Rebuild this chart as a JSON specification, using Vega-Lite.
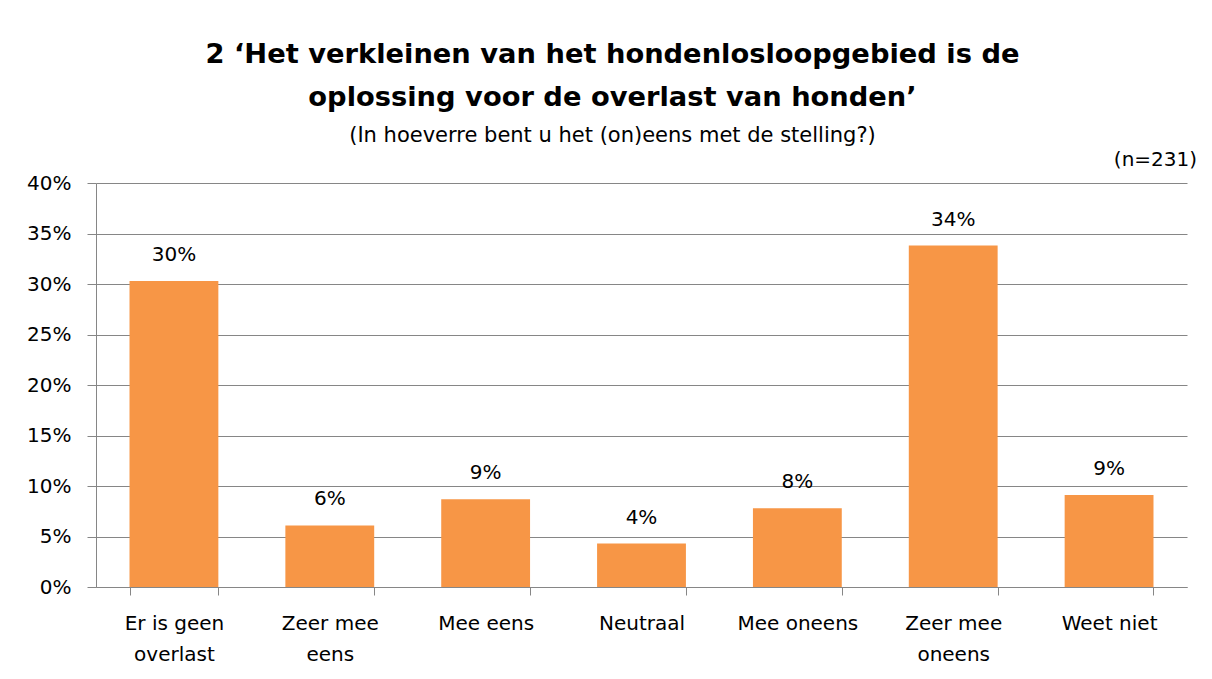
{
  "$schema": "https://vega.github.io/schema/vega-lite/v6.json",
  "autosize": {"type": "none"},
  "width": 1091,
  "height": 404,
  "padding": {"left": 96, "top": 183, "right": 25, "bottom": 92},
  "background": "white",
  "title": {
    "text": ["2 ‘Het verkleinen van het hondenlosloopgebied is de", "oplossing voor de overlast van honden’"],
    "subtitle": "(In hoeverre bent u het (on)eens met de stelling?)",
    "anchor": "middle",
    "dx": -29,
    "offset": 4,
    "font": "DejaVu Sans",
    "fontSize": 27.3,
    "fontWeight": "bold",
    "lineHeight": 43,
    "color": "#000000",
    "subtitleFont": "DejaVu Sans",
    "subtitleFontSize": 21,
    "subtitleColor": "#000000",
    "subtitlePadding": 14
  },
  "data": {
    "values": [
      {"antwoord": "Er is geen overlast", "aandeel": 0.303},
      {"antwoord": "Zeer mee eens", "aandeel": 0.061},
      {"antwoord": "Mee eens", "aandeel": 0.087},
      {"antwoord": "Neutraal", "aandeel": 0.043},
      {"antwoord": "Mee oneens", "aandeel": 0.078},
      {"antwoord": "Zeer mee oneens", "aandeel": 0.338},
      {"antwoord": "Weet niet", "aandeel": 0.091}
    ]
  },
  "encoding": {
    "x": {
      "field": "antwoord",
      "type": "nominal",
      "sort": null,
      "scale": {"paddingInner": 0.43, "paddingOuter": 0.215},
      "axis": {
        "title": null,
        "labelAngle": 0,
        "labelFont": "DejaVu Sans",
        "labelFontSize": 20,
        "labelColor": "#000000",
        "labelLineHeight": 31,
        "labelPadding": 18,
        "labelBaseline": "top",
        "tickBand": "extent",
        "tickSize": 8,
        "tickColor": "#868686",
        "domainColor": "#868686",
        "labelExpr": "datum.value == 'Er is geen overlast' ? ['Er is geen', 'overlast'] : datum.value == 'Zeer mee eens' ? ['Zeer mee', 'eens'] : datum.value == 'Zeer mee oneens' ? ['Zeer mee', 'oneens'] : datum.value"
      }
    }
  },
  "layer": [
    {
      "mark": {"type": "bar", "color": "#F79646"},
      "encoding": {
        "y": {
          "field": "aandeel",
          "type": "quantitative",
          "scale": {"domain": [0, 0.4], "nice": false},
          "axis": {
            "title": null,
            "values": [0, 0.05, 0.1, 0.15, 0.2, 0.25, 0.3, 0.35, 0.4],
            "format": ".0%",
            "labelFont": "DejaVu Sans",
            "labelFontSize": 20,
            "labelColor": "#000000",
            "labelPadding": 16,
            "tickSize": 9,
            "tickColor": "#868686",
            "domainColor": "#868686",
            "gridColor": "#868686",
            "gridWidth": 1
          }
        }
      }
    },
    {
      "mark": {"type": "text", "font": "DejaVu Sans", "fontSize": 20, "color": "#000000", "baseline": "middle", "dy": -26},
      "encoding": {
        "y": {"field": "aandeel", "type": "quantitative"},
        "text": {"field": "aandeel", "type": "quantitative", "format": ".0%"}
      }
    },
    {
      "data": {"values": [{"notitie": "(n=231)"}]},
      "mark": {"type": "text", "font": "DejaVu Sans", "fontSize": 20, "color": "#000000", "align": "right", "baseline": "alphabetic", "dx": 88, "dy": -17},
      "encoding": {
        "x": {"datum": "Weet niet"},
        "y": {"datum": 0.4},
        "text": {"field": "notitie"}
      }
    }
  ],
  "config": {"view": {"stroke": null}}
}
